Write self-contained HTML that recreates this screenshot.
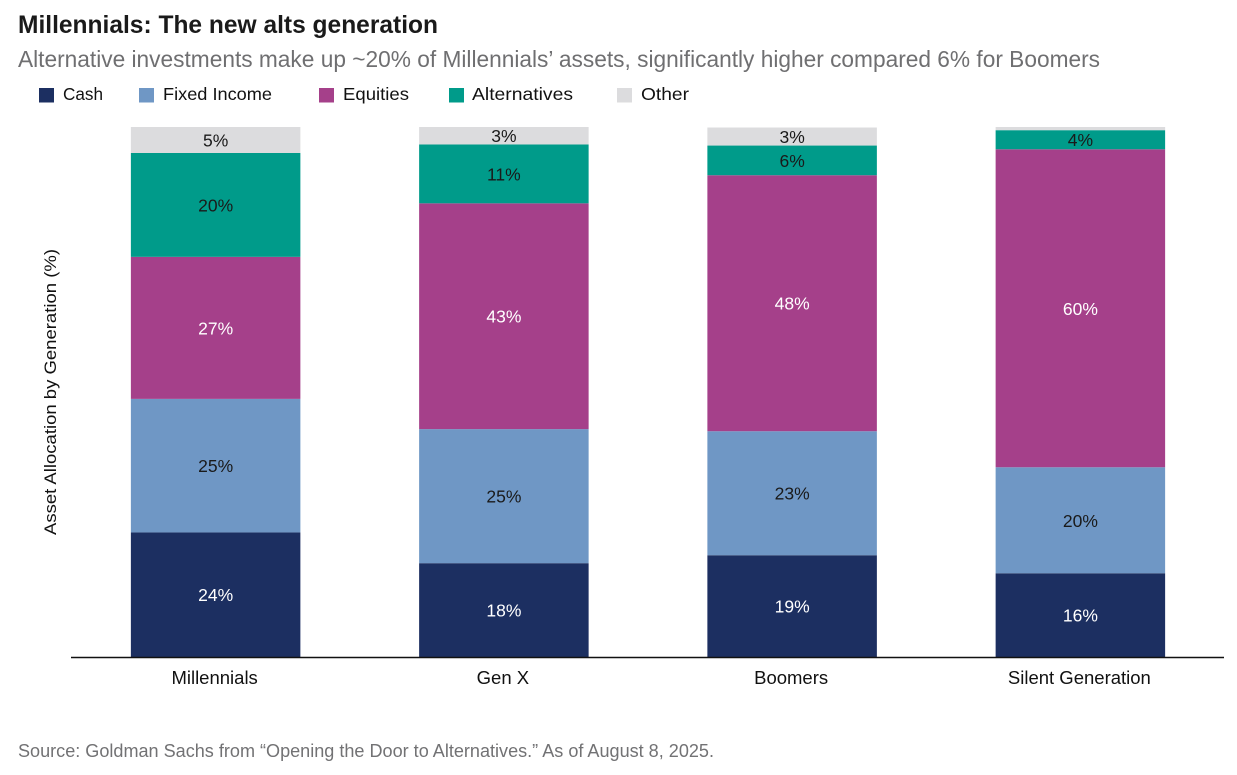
<!DOCTYPE html>
<html lang="en">
<head>
<meta charset="utf-8">
<title>Millennials: The new alts generation</title>
<style>
html,body{margin:0;padding:0;background:#fff;}
svg{display:block;}
text{font-family:"Liberation Sans",sans-serif;}
</style>
</head>
<body>
<svg id="chart" width="1237" height="775" viewBox="0 0 1237 775" xmlns="http://www.w3.org/2000/svg">
  <text x="18" y="33" font-size="25" font-weight="700" fill="#1a1a1a" textLength="420" lengthAdjust="spacingAndGlyphs">Millennials: The new alts generation</text>
  <text x="18" y="67" font-size="23" fill="#6f6f71" textLength="1082" lengthAdjust="spacingAndGlyphs">Alternative investments make up ~20% of Millennials’ assets, significantly higher compared 6% for Boomers</text>

  <g font-size="17.5" fill="#111">
    <g>
      <rect x="39" y="88" width="15" height="14.5" fill="#1c2f61"/>
      <text x="63" y="100" textLength="40" lengthAdjust="spacingAndGlyphs">Cash</text>
    </g>
    <g>
      <rect x="139" y="88" width="15" height="14.5" fill="#6f97c5"/>
      <text x="163" y="100" textLength="109" lengthAdjust="spacingAndGlyphs">Fixed Income</text>
    </g>
    <g>
      <rect x="319" y="88" width="15" height="14.5" fill="#a5408a"/>
      <text x="343" y="100" textLength="66" lengthAdjust="spacingAndGlyphs">Equities</text>
    </g>
    <g>
      <rect x="449" y="88" width="15" height="14.5" fill="#009b8a"/>
      <text x="472" y="100" textLength="101" lengthAdjust="spacingAndGlyphs">Alternatives</text>
    </g>
    <g>
      <rect x="617" y="88" width="15" height="14.5" fill="#dcdcde"/>
      <text x="641" y="100" textLength="48" lengthAdjust="spacingAndGlyphs">Other</text>
    </g>
  </g>

  <text transform="translate(56,392) rotate(-90)" text-anchor="middle" font-size="17" fill="#111" textLength="286" lengthAdjust="spacingAndGlyphs">Asset Allocation by Generation (%)</text>

  <g id="bars"></g>

  <line x1="71" x2="1224" y1="657.5" y2="657.5" stroke="#111" stroke-width="1.5"/>
  <g id="x-labels"></g>

  <text x="18" y="757" font-size="18" fill="#727274" textLength="696" lengthAdjust="spacingAndGlyphs">Source: Goldman Sachs from “Opening the Door to Alternatives.” As of August 8, 2025.</text>
</svg>

<script>
const categories = ["Millennials", "Gen X", "Boomers", "Silent Generation"];
const cash = [23.5, 17.7, 19.2, 15.8];
const fixedIncome = [25.2, 25.3, 23.4, 20.0];
const equities = [26.8, 42.6, 48.3, 60.0];
const alternatives = [19.6, 11.1, 5.6, 3.6];
const other = [4.9, 3.3, 3.4, 0.6];

const seriesNames = ["cash", "fixed-income", "equities", "alternatives", "other"];
const seriesValues = [cash, fixedIncome, equities, alternatives, other];
const seriesColors = ["#1c2f61", "#6f97c5", "#a5408a", "#009b8a", "#dcdcde"];
const labelColors = ["#ffffff", "#1a1a1a", "#ffffff", "#1a1a1a", "#1a1a1a"];

const NS = "http://www.w3.org/2000/svg";
const plotLeft = 71.5, plotRight = 1224.5, plotBottom = 657, plotTop = 127;
const barWidth = 169.5;
const minLabelValue = 2;

function xCenter(i) {
  const band = (plotRight - plotLeft) / categories.length;
  return plotLeft + band * (i + 0.5);
}
function yScale(v) {
  return plotBottom - (v / 100) * (plotBottom - plotTop);
}

const barsGroup = document.getElementById("bars");
const xLabelGroup = document.getElementById("x-labels");

categories.forEach(function (cat, i) {
  const slug = cat.toLowerCase().replace(/\s+/g, "-");
  const cx = xCenter(i);
  let cum = 0;

  const group = document.createElementNS(NS, "g");
  
  
  barsGroup.appendChild(group);

  seriesValues.forEach(function (values, s) {
    const v = values[i];
    const yTop = yScale(cum + v);
    const yBottom = yScale(cum);

    const rect = document.createElementNS(NS, "rect");
    
    
    rect.setAttribute("x", cx - barWidth / 2);
    rect.setAttribute("y", yTop);
    rect.setAttribute("width", barWidth);
    rect.setAttribute("height", yBottom - yTop);
    rect.setAttribute("fill", seriesColors[s]);
    group.appendChild(rect);

    if (v >= minLabelValue) {
      const label = document.createElementNS(NS, "text");
      
      
      label.setAttribute("x", cx);
      label.setAttribute("y", (yTop + yBottom) / 2 + 6.5);
      label.setAttribute("text-anchor", "middle");
      label.setAttribute("font-size", "17.5");
      label.setAttribute("fill", labelColors[s]);
      label.textContent = Math.round(v) + "%";
      group.appendChild(label);
    }
    cum += v;
  });

  const tick = document.createElementNS(NS, "text");
  
  
  tick.setAttribute("x", cx - 1);
  tick.setAttribute("y", 684);
  tick.setAttribute("text-anchor", "middle");
  tick.setAttribute("font-size", "18.5");
  tick.setAttribute("fill", "#111");
  tick.textContent = cat;
  xLabelGroup.appendChild(tick);
});
</script>
</body>
</html>
